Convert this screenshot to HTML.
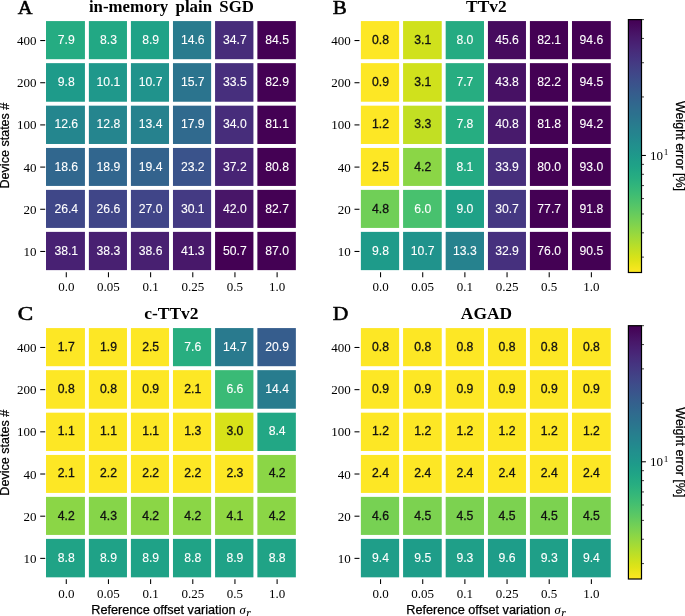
<!DOCTYPE html>
<html lang="en"><head><meta charset="utf-8"><title>Weight error heatmaps</title>
<style>
html,body{margin:0;padding:0;background:#fff}
svg{display:block}
text{font-family:"Liberation Sans",sans-serif}
.an{font-size:12.2px;text-anchor:middle;stroke:#fff;stroke-width:0.1px}
.d{stroke:#111111;stroke-width:0.3px}
.yl{font-family:"Liberation Serif",serif;font-size:13.0px;text-anchor:end;fill:#000}
.xl{font-family:"Liberation Serif",serif;font-size:13.0px;text-anchor:middle;fill:#000}
.cl{font-family:"Liberation Serif",serif;font-size:13.0px;fill:#000}
.sup{font-size:9.2px}
.ti{font-family:"Liberation Serif",serif;font-weight:bold;font-size:16.0px;text-anchor:middle;fill:#000;word-spacing:3.0px}
.pl{font-family:"Liberation Serif",serif;font-weight:normal;font-size:18.8px;fill:#000;stroke:#000;stroke-width:0.55px}
.lb{font-size:12.7px;text-anchor:middle;fill:#000;stroke:#000;stroke-width:0.25px}
.mi{font-family:"Liberation Serif","DejaVu Serif",serif;font-style:italic;font-size:12.6px}
.yl2{font-size:12.55px}
.cbl{font-size:12.5px}
.mi{stroke-width:0.1px}
.sub{font-size:11.5px}
.tk{stroke:#000;stroke-width:1.05}
.mt{stroke:#000;stroke-width:0.75}
</style></head>
<body>
<svg width="685" height="616" viewBox="0 0 685 616">
<rect width="685" height="616" fill="#fff"/>
<defs><linearGradient id="vg" x1="0" y1="1" x2="0" y2="0">
<stop offset="0.0000" stop-color="#fde725"/>
<stop offset="0.0156" stop-color="#f4e61e"/>
<stop offset="0.0312" stop-color="#eae51a"/>
<stop offset="0.0469" stop-color="#dfe318"/>
<stop offset="0.0625" stop-color="#d5e21a"/>
<stop offset="0.0781" stop-color="#cae11f"/>
<stop offset="0.0938" stop-color="#c0df25"/>
<stop offset="0.1094" stop-color="#b5de2b"/>
<stop offset="0.1250" stop-color="#aadc32"/>
<stop offset="0.1406" stop-color="#a0da39"/>
<stop offset="0.1562" stop-color="#95d840"/>
<stop offset="0.1719" stop-color="#8bd646"/>
<stop offset="0.1875" stop-color="#81d34d"/>
<stop offset="0.2031" stop-color="#77d153"/>
<stop offset="0.2188" stop-color="#6ece58"/>
<stop offset="0.2344" stop-color="#65cb5e"/>
<stop offset="0.2500" stop-color="#5cc863"/>
<stop offset="0.2656" stop-color="#54c568"/>
<stop offset="0.2812" stop-color="#4cc26c"/>
<stop offset="0.2969" stop-color="#44bf70"/>
<stop offset="0.3125" stop-color="#3dbc74"/>
<stop offset="0.3281" stop-color="#37b878"/>
<stop offset="0.3438" stop-color="#31b57b"/>
<stop offset="0.3594" stop-color="#2cb17e"/>
<stop offset="0.3750" stop-color="#27ad81"/>
<stop offset="0.3906" stop-color="#24aa83"/>
<stop offset="0.4062" stop-color="#21a685"/>
<stop offset="0.4219" stop-color="#1fa287"/>
<stop offset="0.4375" stop-color="#1f9f88"/>
<stop offset="0.4531" stop-color="#1e9b8a"/>
<stop offset="0.4688" stop-color="#1f978b"/>
<stop offset="0.4844" stop-color="#20938c"/>
<stop offset="0.5000" stop-color="#21908d"/>
<stop offset="0.5156" stop-color="#228c8d"/>
<stop offset="0.5312" stop-color="#23888e"/>
<stop offset="0.5469" stop-color="#25848e"/>
<stop offset="0.5625" stop-color="#26818e"/>
<stop offset="0.5781" stop-color="#287d8e"/>
<stop offset="0.5938" stop-color="#29798e"/>
<stop offset="0.6094" stop-color="#2b758e"/>
<stop offset="0.6250" stop-color="#2c718e"/>
<stop offset="0.6406" stop-color="#2e6e8e"/>
<stop offset="0.6562" stop-color="#306a8e"/>
<stop offset="0.6719" stop-color="#31668e"/>
<stop offset="0.6875" stop-color="#33628d"/>
<stop offset="0.7031" stop-color="#355e8d"/>
<stop offset="0.7188" stop-color="#375a8c"/>
<stop offset="0.7344" stop-color="#39558c"/>
<stop offset="0.7500" stop-color="#3b518b"/>
<stop offset="0.7656" stop-color="#3d4d8a"/>
<stop offset="0.7812" stop-color="#3f4889"/>
<stop offset="0.7969" stop-color="#414487"/>
<stop offset="0.8125" stop-color="#423f85"/>
<stop offset="0.8281" stop-color="#443a83"/>
<stop offset="0.8438" stop-color="#453581"/>
<stop offset="0.8594" stop-color="#46307e"/>
<stop offset="0.8750" stop-color="#472c7a"/>
<stop offset="0.8906" stop-color="#482677"/>
<stop offset="0.9062" stop-color="#482173"/>
<stop offset="0.9219" stop-color="#481c6e"/>
<stop offset="0.9375" stop-color="#481769"/>
<stop offset="0.9531" stop-color="#471164"/>
<stop offset="0.9688" stop-color="#460b5e"/>
<stop offset="0.9844" stop-color="#450559"/>
<stop offset="1.0000" stop-color="#440154"/>
</linearGradient></defs>
<rect x="46.01" y="21.08" width="38.92" height="38.12" fill="#25ac82"/>
<text x="66.28" y="44.00" fill="#fff" class="an">7.9</text>
<rect x="88.88" y="21.08" width="38.08" height="38.12" fill="#22a884"/>
<text x="108.45" y="44.00" fill="#fff" class="an">8.3</text>
<rect x="130.91" y="21.08" width="38.12" height="38.12" fill="#1fa287"/>
<text x="150.61" y="44.00" fill="#fff" class="an">8.9</text>
<rect x="172.97" y="21.08" width="38.15" height="38.12" fill="#297b8e"/>
<text x="192.78" y="44.00" fill="#fff" class="an">14.6</text>
<rect x="215.07" y="21.08" width="38.35" height="38.12" fill="#472c7a"/>
<text x="234.94" y="44.00" fill="#fff" class="an">34.7</text>
<rect x="257.38" y="21.08" width="38.48" height="38.12" fill="#440154"/>
<text x="277.11" y="44.00" fill="#fff" class="an">84.5</text>
<rect x="46.01" y="63.15" width="38.92" height="38.58" fill="#1e9b8a"/>
<text x="66.28" y="86.18" fill="#fff" class="an">9.8</text>
<rect x="88.88" y="63.15" width="38.08" height="38.58" fill="#1f988b"/>
<text x="108.45" y="86.18" fill="#fff" class="an">10.1</text>
<rect x="130.91" y="63.15" width="38.12" height="38.58" fill="#20938c"/>
<text x="150.61" y="86.18" fill="#fff" class="an">10.7</text>
<rect x="172.97" y="63.15" width="38.15" height="38.58" fill="#2b748e"/>
<text x="192.78" y="86.18" fill="#fff" class="an">15.7</text>
<rect x="215.07" y="63.15" width="38.35" height="38.58" fill="#472f7d"/>
<text x="234.94" y="86.18" fill="#fff" class="an">33.5</text>
<rect x="257.38" y="63.15" width="38.48" height="38.58" fill="#440154"/>
<text x="277.11" y="86.18" fill="#fff" class="an">82.9</text>
<rect x="46.01" y="105.67" width="38.92" height="38.31" fill="#24868e"/>
<text x="66.28" y="128.36" fill="#fff" class="an">12.6</text>
<rect x="88.88" y="105.67" width="38.08" height="38.31" fill="#25858e"/>
<text x="108.45" y="128.36" fill="#fff" class="an">12.8</text>
<rect x="130.91" y="105.67" width="38.12" height="38.31" fill="#26828e"/>
<text x="150.61" y="128.36" fill="#fff" class="an">13.4</text>
<rect x="172.97" y="105.67" width="38.15" height="38.31" fill="#306a8e"/>
<text x="192.78" y="128.36" fill="#fff" class="an">17.9</text>
<rect x="215.07" y="105.67" width="38.35" height="38.31" fill="#472d7b"/>
<text x="234.94" y="128.36" fill="#fff" class="an">34.0</text>
<rect x="257.38" y="105.67" width="38.48" height="38.31" fill="#440154"/>
<text x="277.11" y="128.36" fill="#fff" class="an">81.1</text>
<rect x="46.01" y="147.94" width="38.92" height="37.99" fill="#31678e"/>
<text x="66.28" y="170.54" fill="#fff" class="an">18.6</text>
<rect x="88.88" y="147.94" width="38.08" height="37.99" fill="#31668e"/>
<text x="108.45" y="170.54" fill="#fff" class="an">18.9</text>
<rect x="130.91" y="147.94" width="38.12" height="37.99" fill="#33638d"/>
<text x="150.61" y="170.54" fill="#fff" class="an">19.4</text>
<rect x="172.97" y="147.94" width="38.15" height="37.99" fill="#3a538b"/>
<text x="192.78" y="170.54" fill="#fff" class="an">23.2</text>
<rect x="215.07" y="147.94" width="38.35" height="37.99" fill="#482475"/>
<text x="234.94" y="170.54" fill="#fff" class="an">37.2</text>
<rect x="257.38" y="147.94" width="38.48" height="37.99" fill="#440154"/>
<text x="277.11" y="170.54" fill="#fff" class="an">80.8</text>
<rect x="46.01" y="189.88" width="38.92" height="38.05" fill="#3f4788"/>
<text x="66.28" y="212.72" fill="#fff" class="an">26.4</text>
<rect x="88.88" y="189.88" width="38.08" height="38.05" fill="#404688"/>
<text x="108.45" y="212.72" fill="#fff" class="an">26.6</text>
<rect x="130.91" y="189.88" width="38.12" height="38.05" fill="#404588"/>
<text x="150.61" y="212.72" fill="#fff" class="an">27.0</text>
<rect x="172.97" y="189.88" width="38.15" height="38.05" fill="#443a83"/>
<text x="192.78" y="212.72" fill="#fff" class="an">30.1</text>
<rect x="215.07" y="189.88" width="38.35" height="38.05" fill="#481668"/>
<text x="234.94" y="212.72" fill="#fff" class="an">42.0</text>
<rect x="257.38" y="189.88" width="38.48" height="38.05" fill="#440154"/>
<text x="277.11" y="212.72" fill="#fff" class="an">82.7</text>
<rect x="46.01" y="231.88" width="38.92" height="38.25" fill="#482173"/>
<text x="66.28" y="254.90" fill="#fff" class="an">38.1</text>
<rect x="88.88" y="231.88" width="38.08" height="38.25" fill="#482071"/>
<text x="108.45" y="254.90" fill="#fff" class="an">38.3</text>
<rect x="130.91" y="231.88" width="38.12" height="38.25" fill="#482071"/>
<text x="150.61" y="254.90" fill="#fff" class="an">38.6</text>
<rect x="172.97" y="231.88" width="38.15" height="38.25" fill="#48186a"/>
<text x="192.78" y="254.90" fill="#fff" class="an">41.3</text>
<rect x="215.07" y="231.88" width="38.35" height="38.25" fill="#440154"/>
<text x="234.94" y="254.90" fill="#fff" class="an">50.7</text>
<rect x="257.38" y="231.88" width="38.48" height="38.25" fill="#440154"/>
<text x="277.11" y="254.90" fill="#fff" class="an">87.0</text>
<line x1="40.20" x2="45.20" y1="40.55" y2="40.55" class="tk"/>
<text class="yl" x="36.60" y="45.05">400</text>
<line x1="40.20" x2="45.20" y1="82.73" y2="82.73" class="tk"/>
<text class="yl" x="36.60" y="87.23">200</text>
<line x1="40.20" x2="45.20" y1="124.91" y2="124.91" class="tk"/>
<text class="yl" x="36.60" y="129.41">100</text>
<line x1="40.20" x2="45.20" y1="167.09" y2="167.09" class="tk"/>
<text class="yl" x="36.60" y="171.59">40</text>
<line x1="40.20" x2="45.20" y1="209.27" y2="209.27" class="tk"/>
<text class="yl" x="36.60" y="213.77">20</text>
<line x1="40.20" x2="45.20" y1="251.45" y2="251.45" class="tk"/>
<text class="yl" x="36.60" y="255.95">10</text>
<line x1="66.28" x2="66.28" y1="272.34" y2="277.14" class="tk"/>
<text class="xl" x="66.28" y="290.64">0.0</text>
<line x1="108.45" x2="108.45" y1="272.34" y2="277.14" class="tk"/>
<text class="xl" x="108.45" y="290.64">0.05</text>
<line x1="150.61" x2="150.61" y1="272.34" y2="277.14" class="tk"/>
<text class="xl" x="150.61" y="290.64">0.1</text>
<line x1="192.78" x2="192.78" y1="272.34" y2="277.14" class="tk"/>
<text class="xl" x="192.78" y="290.64">0.25</text>
<line x1="234.94" x2="234.94" y1="272.34" y2="277.14" class="tk"/>
<text class="xl" x="234.94" y="290.64">0.5</text>
<line x1="277.11" x2="277.11" y1="272.34" y2="277.14" class="tk"/>
<text class="xl" x="277.11" y="290.64">1.0</text>
<text class="ti" x="171.43" y="12.30" textLength="165.0" lengthAdjust="spacingAndGlyphs">in-memory plain SGD</text>
<text class="pl" x="17.83" y="13.50" textLength="14.8" lengthAdjust="spacingAndGlyphs">A</text>
<text class="lb yl2" transform="translate(9.43,145.55) rotate(-90)">Device states #</text>
</g>
<rect x="360.88" y="21.08" width="38.25" height="38.12" fill="#fde725"/>
<text x="380.55" y="44.00" fill="#111111" class="an d">0.8</text>
<rect x="403.08" y="21.08" width="38.65" height="38.12" fill="#d0e11c"/>
<text x="422.72" y="44.00" fill="#111111" class="an d">3.1</text>
<rect x="445.68" y="21.08" width="38.31" height="38.12" fill="#25ab82"/>
<text x="464.88" y="44.00" fill="#fff" class="an">8.0</text>
<rect x="487.94" y="21.08" width="38.02" height="38.12" fill="#460b5e"/>
<text x="507.05" y="44.00" fill="#fff" class="an">45.6</text>
<rect x="529.90" y="21.08" width="38.12" height="38.12" fill="#440154"/>
<text x="549.21" y="44.00" fill="#fff" class="an">82.1</text>
<rect x="571.98" y="21.08" width="38.80" height="38.12" fill="#440154"/>
<text x="591.38" y="44.00" fill="#fff" class="an">94.6</text>
<rect x="360.88" y="63.15" width="38.25" height="38.58" fill="#fde725"/>
<text x="380.55" y="86.18" fill="#111111" class="an d">0.9</text>
<rect x="403.08" y="63.15" width="38.65" height="38.58" fill="#d0e11c"/>
<text x="422.72" y="86.18" fill="#111111" class="an d">3.1</text>
<rect x="445.68" y="63.15" width="38.31" height="38.58" fill="#27ad81"/>
<text x="464.88" y="86.18" fill="#fff" class="an">7.7</text>
<rect x="487.94" y="63.15" width="38.02" height="38.58" fill="#471164"/>
<text x="507.05" y="86.18" fill="#fff" class="an">43.8</text>
<rect x="529.90" y="63.15" width="38.12" height="38.58" fill="#440154"/>
<text x="549.21" y="86.18" fill="#fff" class="an">82.2</text>
<rect x="571.98" y="63.15" width="38.80" height="38.58" fill="#440154"/>
<text x="591.38" y="86.18" fill="#fff" class="an">94.5</text>
<rect x="360.88" y="105.67" width="38.25" height="38.31" fill="#fde725"/>
<text x="380.55" y="128.36" fill="#111111" class="an d">1.2</text>
<rect x="403.08" y="105.67" width="38.65" height="38.31" fill="#c2df23"/>
<text x="422.72" y="128.36" fill="#111111" class="an d">3.3</text>
<rect x="445.68" y="105.67" width="38.31" height="38.31" fill="#26ad81"/>
<text x="464.88" y="128.36" fill="#fff" class="an">7.8</text>
<rect x="487.94" y="105.67" width="38.02" height="38.31" fill="#481a6c"/>
<text x="507.05" y="128.36" fill="#fff" class="an">40.8</text>
<rect x="529.90" y="105.67" width="38.12" height="38.31" fill="#440154"/>
<text x="549.21" y="128.36" fill="#fff" class="an">81.8</text>
<rect x="571.98" y="105.67" width="38.80" height="38.31" fill="#440154"/>
<text x="591.38" y="128.36" fill="#fff" class="an">94.2</text>
<rect x="360.88" y="147.94" width="38.25" height="37.99" fill="#fde725"/>
<text x="380.55" y="170.54" fill="#111111" class="an d">2.5</text>
<rect x="403.08" y="147.94" width="38.65" height="37.99" fill="#8bd646"/>
<text x="422.72" y="170.54" fill="#111111" class="an d">4.2</text>
<rect x="445.68" y="147.94" width="38.31" height="37.99" fill="#24aa83"/>
<text x="464.88" y="170.54" fill="#fff" class="an">8.1</text>
<rect x="487.94" y="147.94" width="38.02" height="37.99" fill="#472e7c"/>
<text x="507.05" y="170.54" fill="#fff" class="an">33.9</text>
<rect x="529.90" y="147.94" width="38.12" height="37.99" fill="#440154"/>
<text x="549.21" y="170.54" fill="#fff" class="an">80.0</text>
<rect x="571.98" y="147.94" width="38.80" height="37.99" fill="#440154"/>
<text x="591.38" y="170.54" fill="#fff" class="an">93.0</text>
<rect x="360.88" y="189.88" width="38.25" height="38.05" fill="#70cf57"/>
<text x="380.55" y="212.72" fill="#111111" class="an d">4.8</text>
<rect x="403.08" y="189.88" width="38.65" height="38.05" fill="#48c16e"/>
<text x="422.72" y="212.72" fill="#fff" class="an">6.0</text>
<rect x="445.68" y="189.88" width="38.31" height="38.05" fill="#1fa187"/>
<text x="464.88" y="212.72" fill="#fff" class="an">9.0</text>
<rect x="487.94" y="189.88" width="38.02" height="38.05" fill="#453882"/>
<text x="507.05" y="212.72" fill="#fff" class="an">30.7</text>
<rect x="529.90" y="189.88" width="38.12" height="38.05" fill="#440154"/>
<text x="549.21" y="212.72" fill="#fff" class="an">77.7</text>
<rect x="571.98" y="189.88" width="38.80" height="38.05" fill="#440154"/>
<text x="591.38" y="212.72" fill="#fff" class="an">91.8</text>
<rect x="360.88" y="231.88" width="38.25" height="38.25" fill="#1e9b8a"/>
<text x="380.55" y="254.90" fill="#fff" class="an">9.8</text>
<rect x="403.08" y="231.88" width="38.65" height="38.25" fill="#20938c"/>
<text x="422.72" y="254.90" fill="#fff" class="an">10.7</text>
<rect x="445.68" y="231.88" width="38.31" height="38.25" fill="#26828e"/>
<text x="464.88" y="254.90" fill="#fff" class="an">13.3</text>
<rect x="487.94" y="231.88" width="38.02" height="38.25" fill="#46307e"/>
<text x="507.05" y="254.90" fill="#fff" class="an">32.9</text>
<rect x="529.90" y="231.88" width="38.12" height="38.25" fill="#440154"/>
<text x="549.21" y="254.90" fill="#fff" class="an">76.0</text>
<rect x="571.98" y="231.88" width="38.80" height="38.25" fill="#440154"/>
<text x="591.38" y="254.90" fill="#fff" class="an">90.5</text>
<line x1="354.47" x2="359.47" y1="40.55" y2="40.55" class="tk"/>
<text class="yl" x="350.87" y="45.05">400</text>
<line x1="354.47" x2="359.47" y1="82.73" y2="82.73" class="tk"/>
<text class="yl" x="350.87" y="87.23">200</text>
<line x1="354.47" x2="359.47" y1="124.91" y2="124.91" class="tk"/>
<text class="yl" x="350.87" y="129.41">100</text>
<line x1="354.47" x2="359.47" y1="167.09" y2="167.09" class="tk"/>
<text class="yl" x="350.87" y="171.59">40</text>
<line x1="354.47" x2="359.47" y1="209.27" y2="209.27" class="tk"/>
<text class="yl" x="350.87" y="213.77">20</text>
<line x1="354.47" x2="359.47" y1="251.45" y2="251.45" class="tk"/>
<text class="yl" x="350.87" y="255.95">10</text>
<line x1="380.55" x2="380.55" y1="272.34" y2="277.14" class="tk"/>
<text class="xl" x="380.55" y="290.64">0.0</text>
<line x1="422.72" x2="422.72" y1="272.34" y2="277.14" class="tk"/>
<text class="xl" x="422.72" y="290.64">0.05</text>
<line x1="464.88" x2="464.88" y1="272.34" y2="277.14" class="tk"/>
<text class="xl" x="464.88" y="290.64">0.1</text>
<line x1="507.05" x2="507.05" y1="272.34" y2="277.14" class="tk"/>
<text class="xl" x="507.05" y="290.64">0.25</text>
<line x1="549.21" x2="549.21" y1="272.34" y2="277.14" class="tk"/>
<text class="xl" x="549.21" y="290.64">0.5</text>
<line x1="591.38" x2="591.38" y1="272.34" y2="277.14" class="tk"/>
<text class="xl" x="591.38" y="290.64">1.0</text>
<text class="ti" x="486.43" y="12.30" textLength="40.6" lengthAdjust="spacingAndGlyphs">TTv2</text>
<text class="pl" x="332.83" y="13.50" textLength="14.0" lengthAdjust="spacingAndGlyphs">B</text>
</g>
<rect x="46.01" y="328.08" width="38.92" height="38.12" fill="#fde725"/>
<text x="66.28" y="350.92" fill="#111111" class="an d">1.7</text>
<rect x="88.88" y="328.08" width="38.08" height="38.12" fill="#fde725"/>
<text x="108.45" y="350.92" fill="#111111" class="an d">1.9</text>
<rect x="130.91" y="328.08" width="38.12" height="38.12" fill="#fde725"/>
<text x="150.61" y="350.92" fill="#111111" class="an d">2.5</text>
<rect x="172.97" y="328.08" width="38.15" height="38.12" fill="#28ae80"/>
<text x="192.78" y="350.92" fill="#fff" class="an">7.6</text>
<rect x="215.07" y="328.08" width="38.35" height="38.12" fill="#297a8e"/>
<text x="234.94" y="350.92" fill="#fff" class="an">14.7</text>
<rect x="257.38" y="328.08" width="38.48" height="38.12" fill="#365d8d"/>
<text x="277.11" y="350.92" fill="#fff" class="an">20.9</text>
<rect x="46.01" y="370.15" width="38.92" height="38.58" fill="#fde725"/>
<text x="66.28" y="393.10" fill="#111111" class="an d">0.8</text>
<rect x="88.88" y="370.15" width="38.08" height="38.58" fill="#fde725"/>
<text x="108.45" y="393.10" fill="#111111" class="an d">0.8</text>
<rect x="130.91" y="370.15" width="38.12" height="38.58" fill="#fde725"/>
<text x="150.61" y="393.10" fill="#111111" class="an d">0.9</text>
<rect x="172.97" y="370.15" width="38.15" height="38.58" fill="#fde725"/>
<text x="192.78" y="393.10" fill="#111111" class="an d">2.1</text>
<rect x="215.07" y="370.15" width="38.35" height="38.58" fill="#3aba76"/>
<text x="234.94" y="393.10" fill="#fff" class="an">6.6</text>
<rect x="257.38" y="370.15" width="38.48" height="38.58" fill="#287c8e"/>
<text x="277.11" y="393.10" fill="#fff" class="an">14.4</text>
<rect x="46.01" y="412.68" width="38.92" height="38.31" fill="#fde725"/>
<text x="66.28" y="435.28" fill="#111111" class="an d">1.1</text>
<rect x="88.88" y="412.68" width="38.08" height="38.31" fill="#fde725"/>
<text x="108.45" y="435.28" fill="#111111" class="an d">1.1</text>
<rect x="130.91" y="412.68" width="38.12" height="38.31" fill="#fde725"/>
<text x="150.61" y="435.28" fill="#111111" class="an d">1.1</text>
<rect x="172.97" y="412.68" width="38.15" height="38.31" fill="#fde725"/>
<text x="192.78" y="435.28" fill="#111111" class="an d">1.3</text>
<rect x="215.07" y="412.68" width="38.35" height="38.31" fill="#d8e219"/>
<text x="234.94" y="435.28" fill="#111111" class="an d">3.0</text>
<rect x="257.38" y="412.68" width="38.48" height="38.31" fill="#22a785"/>
<text x="277.11" y="435.28" fill="#fff" class="an">8.4</text>
<rect x="46.01" y="454.94" width="38.92" height="37.99" fill="#fde725"/>
<text x="66.28" y="477.46" fill="#111111" class="an d">2.1</text>
<rect x="88.88" y="454.94" width="38.08" height="37.99" fill="#fde725"/>
<text x="108.45" y="477.46" fill="#111111" class="an d">2.2</text>
<rect x="130.91" y="454.94" width="38.12" height="37.99" fill="#fde725"/>
<text x="150.61" y="477.46" fill="#111111" class="an d">2.2</text>
<rect x="172.97" y="454.94" width="38.15" height="37.99" fill="#fde725"/>
<text x="192.78" y="477.46" fill="#111111" class="an d">2.2</text>
<rect x="215.07" y="454.94" width="38.35" height="37.99" fill="#fde725"/>
<text x="234.94" y="477.46" fill="#111111" class="an d">2.3</text>
<rect x="257.38" y="454.94" width="38.48" height="37.99" fill="#8bd646"/>
<text x="277.11" y="477.46" fill="#111111" class="an d">4.2</text>
<rect x="46.01" y="496.88" width="38.92" height="38.05" fill="#8bd646"/>
<text x="66.28" y="519.64" fill="#111111" class="an d">4.2</text>
<rect x="88.88" y="496.88" width="38.08" height="38.05" fill="#86d549"/>
<text x="108.45" y="519.64" fill="#111111" class="an d">4.3</text>
<rect x="130.91" y="496.88" width="38.12" height="38.05" fill="#8bd646"/>
<text x="150.61" y="519.64" fill="#111111" class="an d">4.2</text>
<rect x="172.97" y="496.88" width="38.15" height="38.05" fill="#8bd646"/>
<text x="192.78" y="519.64" fill="#111111" class="an d">4.2</text>
<rect x="215.07" y="496.88" width="38.35" height="38.05" fill="#90d743"/>
<text x="234.94" y="519.64" fill="#111111" class="an d">4.1</text>
<rect x="257.38" y="496.88" width="38.48" height="38.05" fill="#8bd646"/>
<text x="277.11" y="519.64" fill="#111111" class="an d">4.2</text>
<rect x="46.01" y="538.88" width="38.92" height="38.45" fill="#20a386"/>
<text x="66.28" y="561.82" fill="#fff" class="an">8.8</text>
<rect x="88.88" y="538.88" width="38.08" height="38.45" fill="#1fa287"/>
<text x="108.45" y="561.82" fill="#fff" class="an">8.9</text>
<rect x="130.91" y="538.88" width="38.12" height="38.45" fill="#1fa287"/>
<text x="150.61" y="561.82" fill="#fff" class="an">8.9</text>
<rect x="172.97" y="538.88" width="38.15" height="38.45" fill="#20a386"/>
<text x="192.78" y="561.82" fill="#fff" class="an">8.8</text>
<rect x="215.07" y="538.88" width="38.35" height="38.45" fill="#1fa287"/>
<text x="234.94" y="561.82" fill="#fff" class="an">8.9</text>
<rect x="257.38" y="538.88" width="38.48" height="38.45" fill="#20a386"/>
<text x="277.11" y="561.82" fill="#fff" class="an">8.8</text>
<line x1="40.20" x2="45.20" y1="347.47" y2="347.47" class="tk"/>
<text class="yl" x="36.60" y="351.97">400</text>
<line x1="40.20" x2="45.20" y1="389.65" y2="389.65" class="tk"/>
<text class="yl" x="36.60" y="394.15">200</text>
<line x1="40.20" x2="45.20" y1="431.83" y2="431.83" class="tk"/>
<text class="yl" x="36.60" y="436.33">100</text>
<line x1="40.20" x2="45.20" y1="474.01" y2="474.01" class="tk"/>
<text class="yl" x="36.60" y="478.51">40</text>
<line x1="40.20" x2="45.20" y1="516.19" y2="516.19" class="tk"/>
<text class="yl" x="36.60" y="520.69">20</text>
<line x1="40.20" x2="45.20" y1="558.37" y2="558.37" class="tk"/>
<text class="yl" x="36.60" y="562.87">10</text>
<line x1="66.28" x2="66.28" y1="579.26" y2="584.06" class="tk"/>
<text class="xl" x="66.28" y="597.56">0.0</text>
<line x1="108.45" x2="108.45" y1="579.26" y2="584.06" class="tk"/>
<text class="xl" x="108.45" y="597.56">0.05</text>
<line x1="150.61" x2="150.61" y1="579.26" y2="584.06" class="tk"/>
<text class="xl" x="150.61" y="597.56">0.1</text>
<line x1="192.78" x2="192.78" y1="579.26" y2="584.06" class="tk"/>
<text class="xl" x="192.78" y="597.56">0.25</text>
<line x1="234.94" x2="234.94" y1="579.26" y2="584.06" class="tk"/>
<text class="xl" x="234.94" y="597.56">0.5</text>
<line x1="277.11" x2="277.11" y1="579.26" y2="584.06" class="tk"/>
<text class="xl" x="277.11" y="597.56">1.0</text>
<text class="ti" x="171.43" y="319.30" textLength="54.4" lengthAdjust="spacingAndGlyphs">c-TTv2</text>
<text class="pl" x="17.83" y="319.80" textLength="15.4" lengthAdjust="spacingAndGlyphs">C</text>
<text class="lb yl2" transform="translate(9.43,452.75) rotate(-90)">Device states #</text>
<text class="lb" x="170.93" y="614.30">Reference offset variation <tspan class="mi" dx="0.3">σ</tspan><tspan class="mi sub" dy="2.6" dx="0.5">r</tspan></text>
</g>
<rect x="360.88" y="328.08" width="38.25" height="38.12" fill="#fde725"/>
<text x="380.55" y="350.92" fill="#111111" class="an d">0.8</text>
<rect x="403.08" y="328.08" width="38.65" height="38.12" fill="#fde725"/>
<text x="422.72" y="350.92" fill="#111111" class="an d">0.8</text>
<rect x="445.68" y="328.08" width="38.31" height="38.12" fill="#fde725"/>
<text x="464.88" y="350.92" fill="#111111" class="an d">0.8</text>
<rect x="487.94" y="328.08" width="38.02" height="38.12" fill="#fde725"/>
<text x="507.05" y="350.92" fill="#111111" class="an d">0.8</text>
<rect x="529.90" y="328.08" width="38.12" height="38.12" fill="#fde725"/>
<text x="549.21" y="350.92" fill="#111111" class="an d">0.8</text>
<rect x="571.98" y="328.08" width="38.80" height="38.12" fill="#fde725"/>
<text x="591.38" y="350.92" fill="#111111" class="an d">0.8</text>
<rect x="360.88" y="370.15" width="38.25" height="38.58" fill="#fde725"/>
<text x="380.55" y="393.10" fill="#111111" class="an d">0.9</text>
<rect x="403.08" y="370.15" width="38.65" height="38.58" fill="#fde725"/>
<text x="422.72" y="393.10" fill="#111111" class="an d">0.9</text>
<rect x="445.68" y="370.15" width="38.31" height="38.58" fill="#fde725"/>
<text x="464.88" y="393.10" fill="#111111" class="an d">0.9</text>
<rect x="487.94" y="370.15" width="38.02" height="38.58" fill="#fde725"/>
<text x="507.05" y="393.10" fill="#111111" class="an d">0.9</text>
<rect x="529.90" y="370.15" width="38.12" height="38.58" fill="#fde725"/>
<text x="549.21" y="393.10" fill="#111111" class="an d">0.9</text>
<rect x="571.98" y="370.15" width="38.80" height="38.58" fill="#fde725"/>
<text x="591.38" y="393.10" fill="#111111" class="an d">0.9</text>
<rect x="360.88" y="412.68" width="38.25" height="38.31" fill="#fde725"/>
<text x="380.55" y="435.28" fill="#111111" class="an d">1.2</text>
<rect x="403.08" y="412.68" width="38.65" height="38.31" fill="#fde725"/>
<text x="422.72" y="435.28" fill="#111111" class="an d">1.2</text>
<rect x="445.68" y="412.68" width="38.31" height="38.31" fill="#fde725"/>
<text x="464.88" y="435.28" fill="#111111" class="an d">1.2</text>
<rect x="487.94" y="412.68" width="38.02" height="38.31" fill="#fde725"/>
<text x="507.05" y="435.28" fill="#111111" class="an d">1.2</text>
<rect x="529.90" y="412.68" width="38.12" height="38.31" fill="#fde725"/>
<text x="549.21" y="435.28" fill="#111111" class="an d">1.2</text>
<rect x="571.98" y="412.68" width="38.80" height="38.31" fill="#fde725"/>
<text x="591.38" y="435.28" fill="#111111" class="an d">1.2</text>
<rect x="360.88" y="454.94" width="38.25" height="37.99" fill="#fde725"/>
<text x="380.55" y="477.46" fill="#111111" class="an d">2.4</text>
<rect x="403.08" y="454.94" width="38.65" height="37.99" fill="#fde725"/>
<text x="422.72" y="477.46" fill="#111111" class="an d">2.4</text>
<rect x="445.68" y="454.94" width="38.31" height="37.99" fill="#fde725"/>
<text x="464.88" y="477.46" fill="#111111" class="an d">2.4</text>
<rect x="487.94" y="454.94" width="38.02" height="37.99" fill="#fde725"/>
<text x="507.05" y="477.46" fill="#111111" class="an d">2.4</text>
<rect x="529.90" y="454.94" width="38.12" height="37.99" fill="#fde725"/>
<text x="549.21" y="477.46" fill="#111111" class="an d">2.4</text>
<rect x="571.98" y="454.94" width="38.80" height="37.99" fill="#fde725"/>
<text x="591.38" y="477.46" fill="#111111" class="an d">2.4</text>
<rect x="360.88" y="496.88" width="38.25" height="38.05" fill="#77d153"/>
<text x="380.55" y="519.64" fill="#111111" class="an d">4.6</text>
<rect x="403.08" y="496.88" width="38.65" height="38.05" fill="#7cd250"/>
<text x="422.72" y="519.64" fill="#111111" class="an d">4.5</text>
<rect x="445.68" y="496.88" width="38.31" height="38.05" fill="#7cd250"/>
<text x="464.88" y="519.64" fill="#111111" class="an d">4.5</text>
<rect x="487.94" y="496.88" width="38.02" height="38.05" fill="#7cd250"/>
<text x="507.05" y="519.64" fill="#111111" class="an d">4.5</text>
<rect x="529.90" y="496.88" width="38.12" height="38.05" fill="#7cd250"/>
<text x="549.21" y="519.64" fill="#111111" class="an d">4.5</text>
<rect x="571.98" y="496.88" width="38.80" height="38.05" fill="#7cd250"/>
<text x="591.38" y="519.64" fill="#111111" class="an d">4.5</text>
<rect x="360.88" y="538.88" width="38.25" height="38.45" fill="#1f9e89"/>
<text x="380.55" y="561.82" fill="#fff" class="an">9.4</text>
<rect x="403.08" y="538.88" width="38.65" height="38.45" fill="#1e9d89"/>
<text x="422.72" y="561.82" fill="#fff" class="an">9.5</text>
<rect x="445.68" y="538.88" width="38.31" height="38.45" fill="#1f9f88"/>
<text x="464.88" y="561.82" fill="#fff" class="an">9.3</text>
<rect x="487.94" y="538.88" width="38.02" height="38.45" fill="#1e9d89"/>
<text x="507.05" y="561.82" fill="#fff" class="an">9.6</text>
<rect x="529.90" y="538.88" width="38.12" height="38.45" fill="#1f9f88"/>
<text x="549.21" y="561.82" fill="#fff" class="an">9.3</text>
<rect x="571.98" y="538.88" width="38.80" height="38.45" fill="#1f9e89"/>
<text x="591.38" y="561.82" fill="#fff" class="an">9.4</text>
<line x1="354.47" x2="359.47" y1="347.47" y2="347.47" class="tk"/>
<text class="yl" x="350.87" y="351.97">400</text>
<line x1="354.47" x2="359.47" y1="389.65" y2="389.65" class="tk"/>
<text class="yl" x="350.87" y="394.15">200</text>
<line x1="354.47" x2="359.47" y1="431.83" y2="431.83" class="tk"/>
<text class="yl" x="350.87" y="436.33">100</text>
<line x1="354.47" x2="359.47" y1="474.01" y2="474.01" class="tk"/>
<text class="yl" x="350.87" y="478.51">40</text>
<line x1="354.47" x2="359.47" y1="516.19" y2="516.19" class="tk"/>
<text class="yl" x="350.87" y="520.69">20</text>
<line x1="354.47" x2="359.47" y1="558.37" y2="558.37" class="tk"/>
<text class="yl" x="350.87" y="562.87">10</text>
<line x1="380.55" x2="380.55" y1="579.26" y2="584.06" class="tk"/>
<text class="xl" x="380.55" y="597.56">0.0</text>
<line x1="422.72" x2="422.72" y1="579.26" y2="584.06" class="tk"/>
<text class="xl" x="422.72" y="597.56">0.05</text>
<line x1="464.88" x2="464.88" y1="579.26" y2="584.06" class="tk"/>
<text class="xl" x="464.88" y="597.56">0.1</text>
<line x1="507.05" x2="507.05" y1="579.26" y2="584.06" class="tk"/>
<text class="xl" x="507.05" y="597.56">0.25</text>
<line x1="549.21" x2="549.21" y1="579.26" y2="584.06" class="tk"/>
<text class="xl" x="549.21" y="597.56">0.5</text>
<line x1="591.38" x2="591.38" y1="579.26" y2="584.06" class="tk"/>
<text class="xl" x="591.38" y="597.56">1.0</text>
<text class="ti" x="486.43" y="319.30" textLength="51.1" lengthAdjust="spacingAndGlyphs">AGAD</text>
<text class="pl" x="332.83" y="319.80" textLength="15.6" lengthAdjust="spacingAndGlyphs">D</text>
<text class="lb" x="485.93" y="614.30">Reference offset variation <tspan class="mi" dx="0.3">σ</tspan><tspan class="mi sub" dy="2.6" dx="0.5">r</tspan></text>
</g>
<rect x="628.40" y="19.60" width="13.10" height="252.90" fill="url(#vg)" stroke="#000" stroke-width="1.2"/>
<line x1="641.50" x2="644.00" y1="257.11" y2="257.11" class="mt"/>
<line x1="641.50" x2="644.00" y1="232.82" y2="232.82" class="mt"/>
<line x1="641.50" x2="644.00" y1="213.98" y2="213.98" class="mt"/>
<line x1="641.50" x2="644.00" y1="198.59" y2="198.59" class="mt"/>
<line x1="641.50" x2="644.00" y1="185.58" y2="185.58" class="mt"/>
<line x1="641.50" x2="644.00" y1="174.31" y2="174.31" class="mt"/>
<line x1="641.50" x2="644.00" y1="164.36" y2="164.36" class="mt"/>
<line x1="641.50" x2="644.00" y1="96.95" y2="96.95" class="mt"/>
<line x1="641.50" x2="644.00" y1="62.72" y2="62.72" class="mt"/>
<line x1="641.50" x2="644.00" y1="38.44" y2="38.44" class="mt"/>
<line x1="641.50" x2="644.00" y1="19.60" y2="19.60" class="mt"/>
<line x1="641.50" x2="645.90" y1="155.47" y2="155.47" class="tk"/>
<text class="cl" x="650.10" y="159.87">10<tspan class="sup" dy="-4.6" dx="0.6">1</tspan></text>
<text class="lb cbl" transform="translate(675.60,146.05) rotate(90)">Weight error [%]</text>
<rect x="628.40" y="325.70" width="13.10" height="253.30" fill="url(#vg)" stroke="#000" stroke-width="1.2"/>
<line x1="641.50" x2="644.00" y1="563.58" y2="563.58" class="mt"/>
<line x1="641.50" x2="644.00" y1="539.26" y2="539.26" class="mt"/>
<line x1="641.50" x2="644.00" y1="520.39" y2="520.39" class="mt"/>
<line x1="641.50" x2="644.00" y1="504.98" y2="504.98" class="mt"/>
<line x1="641.50" x2="644.00" y1="491.94" y2="491.94" class="mt"/>
<line x1="641.50" x2="644.00" y1="480.65" y2="480.65" class="mt"/>
<line x1="641.50" x2="644.00" y1="470.69" y2="470.69" class="mt"/>
<line x1="641.50" x2="644.00" y1="403.18" y2="403.18" class="mt"/>
<line x1="641.50" x2="644.00" y1="368.89" y2="368.89" class="mt"/>
<line x1="641.50" x2="644.00" y1="344.57" y2="344.57" class="mt"/>
<line x1="641.50" x2="644.00" y1="325.70" y2="325.70" class="mt"/>
<line x1="641.50" x2="645.90" y1="461.78" y2="461.78" class="tk"/>
<text class="cl" x="650.10" y="466.18">10<tspan class="sup" dy="-4.6" dx="0.6">1</tspan></text>
<text class="lb cbl" transform="translate(675.60,452.35) rotate(90)">Weight error [%]</text>
</svg>
</body></html>
